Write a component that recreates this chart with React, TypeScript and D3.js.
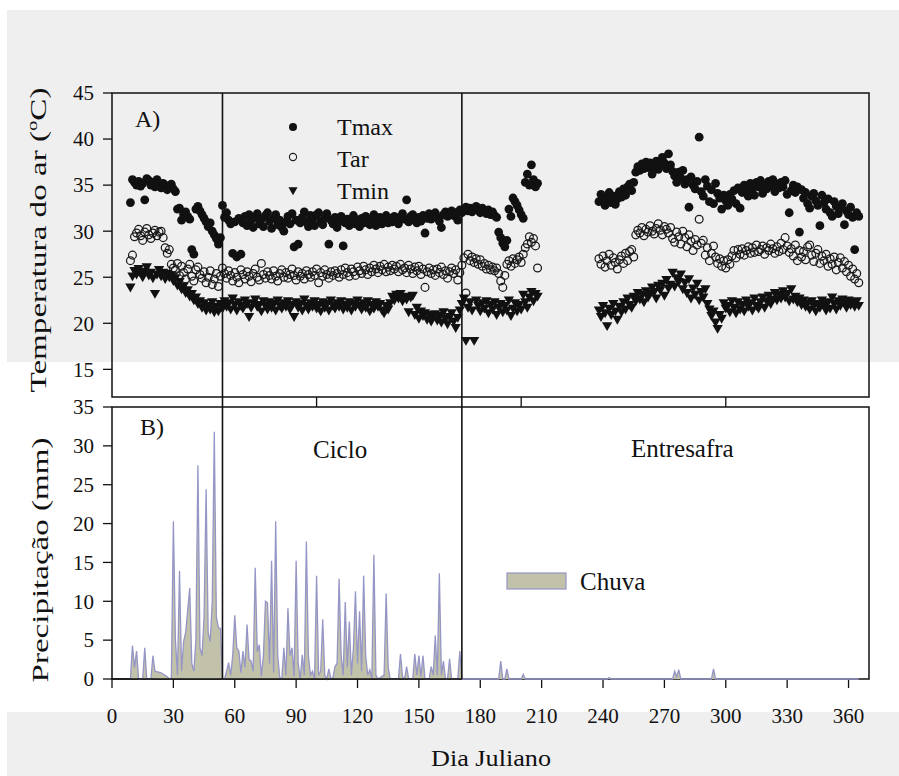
import React from 'react';
import * as d3 from 'd3';

const W = 899;
const H = 776;

// Day of first value of each observed segment
const startA = 9;
const startB = 238;

const tmaxA = [
  33.1, 35.6, 35.3, 35.0, 35.4, 34.9, 35.2, 33.4, 35.7, 35.5,
  35.0, 35.3, 34.8, 35.6, 35.1, 34.7, 35.2, 35.0, 34.5, 34.8,
  35.1, 34.6, 34.3, 32.4, 32.5, 31.2, 31.8, 32.1, 31.6, 31.3,
  28.0, 27.5, 32.4, 32.7, 32.2, 31.8, 31.4, 31.0, 30.5, 30.9,
  30.0, 29.6, 29.2, 28.6, 29.3, 32.8, 31.5, 32.0, 31.2, 30.8,
  27.6, 31.0, 27.2, 31.4, 27.5, 30.9, 31.6, 30.6, 31.8, 31.2,
  30.4, 31.5, 31.9, 30.8, 31.3, 30.5, 31.7, 32.0, 31.1, 30.3,
  31.4, 31.8, 30.7, 31.2, 30.4, 30.0, 31.0, 31.6, 30.8, 31.9,
  28.3, 31.2, 28.6, 30.9, 31.5, 32.1, 31.0, 30.5, 31.7, 31.3,
  30.6, 31.8, 32.0, 31.1, 30.7, 31.4, 31.9, 28.6, 31.2, 30.8,
  31.5, 30.4, 31.0, 31.6, 28.4, 30.9, 31.3, 30.6, 31.1, 31.7,
  30.8, 31.2, 30.5, 31.4, 30.9, 31.6, 31.0, 30.7, 31.3, 31.8,
  30.6, 31.1, 31.5, 30.8, 31.2, 31.7, 30.9, 31.4, 31.0, 31.6,
  31.2, 30.8, 31.5, 31.9, 31.3, 33.4, 31.0, 31.6, 31.8, 31.2,
  30.9, 31.5, 31.1, 31.7, 29.8, 31.4, 31.9, 31.3, 31.6, 32.0,
  31.5, 31.1, 30.4, 31.8, 32.1, 31.6, 31.9, 32.2, 31.7, 32.0,
  31.2, 32.3, 32.0, 32.4, 32.6, 32.2, 32.5, 32.1, 32.4, 32.7,
  32.3, 32.0, 32.5, 32.2, 31.9, 32.3, 31.8, 32.1, 31.7, 31.5,
  29.9, 29.3, 28.7, 28.3, 29.0, 32.4, 31.6, 33.6, 33.2, 32.8,
  32.3, 31.8, 31.4, 35.3, 36.2, 35.0, 37.2, 35.6, 34.8, 35.2,
];

const tmaxB = [
  33.2, 34.0, 33.4, 32.8, 33.6, 34.2, 33.1, 33.8, 32.9, 33.5,
  34.3, 33.7, 34.6, 33.9, 34.8, 35.1, 34.4, 35.3, 36.4, 37.0,
  36.6, 37.3, 36.8, 37.5, 36.9, 37.4, 36.2, 37.0, 37.6, 36.7,
  37.1, 38.0, 37.4, 36.8, 38.4, 37.2, 36.5, 36.0, 35.3, 36.4,
  35.8, 36.6, 35.1, 35.6, 32.6, 35.9, 35.0, 34.6, 35.4, 40.2,
  34.3, 33.8, 35.6, 34.9, 33.2, 34.5, 33.0, 35.2, 34.1, 33.6,
  32.4, 33.9, 33.3, 32.8, 34.0, 33.5, 34.4, 33.0, 34.7, 32.5,
  34.2, 35.0, 34.5, 33.8, 35.2, 34.6, 33.9, 35.3, 34.8, 35.5,
  34.1, 35.0, 34.6, 35.4, 34.9, 35.6, 34.3, 35.1, 34.7, 35.3,
  34.8, 35.5, 34.0, 32.0, 34.4, 35.0, 34.2, 34.8, 29.9, 34.5,
  33.6, 34.2, 33.0, 32.5, 33.8, 34.1, 33.3, 32.8, 30.6, 33.9,
  33.1, 32.4, 33.5, 32.0, 31.6, 33.2, 32.7, 31.9, 32.5, 33.0,
  30.7, 32.2, 31.8, 32.6, 31.5, 28.0, 32.0, 31.6,
];

const tarA = [
  26.8, 27.4, 29.4, 29.8, 30.2, 29.5, 29.0, 29.9, 30.3, 29.6,
  29.2, 29.8, 30.1, 29.5, 29.9, 30.0, 29.3, 28.2, 27.6, 28.0,
  26.4, 26.0, 25.8, 26.5, 25.2, 26.2, 25.5, 24.8, 25.9, 26.4,
  25.1, 24.6, 25.8, 26.1, 25.3, 24.9, 25.6, 24.4, 25.0, 25.7,
  24.2, 24.8, 25.4, 24.0, 25.1, 26.0, 25.4, 24.9, 25.7, 25.2,
  24.6, 25.5, 25.0, 24.4, 25.8, 25.3, 24.8, 25.6, 25.1, 24.5,
  25.4, 25.9, 25.0, 24.7, 26.5, 25.3, 24.9, 25.6, 25.2, 24.8,
  25.7, 25.1, 24.6, 25.4, 25.8, 25.0, 25.5, 24.9, 25.3, 25.9,
  25.2, 24.7, 25.6, 25.1, 25.4, 24.8, 25.7, 25.3, 25.0, 25.6,
  25.2, 25.9, 24.4, 25.5, 25.1, 25.8, 25.3, 24.9, 25.6, 25.2,
  25.7, 25.4, 25.0, 25.8, 25.3, 26.0, 25.5, 25.1, 25.9, 25.6,
  25.2, 26.1, 25.7, 25.4, 26.2, 25.8, 25.3, 26.0, 25.6, 26.3,
  25.9, 25.5, 26.2, 25.8, 26.4, 25.6, 26.1, 25.7, 26.3, 25.9,
  26.2, 25.6, 26.4, 25.8, 26.0, 25.5, 26.3, 25.9, 25.4, 26.1,
  25.7, 26.2, 25.3, 25.9, 23.9, 25.6, 26.0, 25.4, 25.8, 25.2,
  25.9, 25.5, 26.1, 25.3, 25.7, 24.9, 25.6, 26.0, 25.4, 25.8,
  24.7, 25.5, 26.3, 27.1, 23.3, 27.5, 26.8, 27.2, 26.6, 27.0,
  26.4, 26.9, 26.2, 26.5, 25.9, 26.3, 25.8, 26.1, 25.7, 26.0,
  25.4, 24.6, 23.9, 25.2, 26.4, 26.8, 26.2, 27.0, 26.5, 26.9,
  27.2, 26.6, 27.5, 28.2, 28.6, 29.4, 28.8, 29.2, 28.4, 26.0,
];

const tarB = [
  27.0, 26.4, 27.3, 26.1, 26.8, 27.5, 26.3, 27.1, 26.6, 25.9,
  26.9, 27.3, 26.5, 27.6, 26.8, 27.8, 28.0, 27.2, 29.6, 30.1,
  29.8, 30.4, 29.5, 30.2, 29.9, 30.6, 30.0, 29.7, 30.3, 30.8,
  30.1, 29.6, 30.5, 30.2, 29.8, 30.4, 29.2, 28.8, 29.9, 29.4,
  28.6, 30.0, 29.3, 28.3, 29.6, 28.9, 27.9, 29.1, 28.5, 31.3,
  28.7, 29.0, 27.4, 28.2, 26.8, 27.6, 28.4, 27.2, 26.5, 27.0,
  26.2, 26.8, 26.0, 26.9, 26.4, 27.3, 27.9, 27.1, 28.0, 27.5,
  28.1, 27.4, 27.9, 28.3, 27.6, 28.2, 27.7, 28.5, 27.8, 28.0,
  28.4, 27.5, 28.2, 27.9, 28.6, 28.1, 27.6, 28.3, 27.8, 28.7,
  28.0, 29.3, 28.4, 27.7, 28.1, 27.3, 28.5, 26.8, 27.9, 27.2,
  27.8, 26.9, 28.3, 28.5, 27.4, 26.7, 27.6, 28.0, 26.5, 27.3,
  26.8, 27.5, 26.2, 27.0, 26.4, 27.2, 25.8, 26.6, 27.1, 26.0,
  26.7, 25.6, 26.3, 25.1, 25.9, 24.8, 25.4, 24.4,
];

const tminA = [
  24.0, 25.2, 25.8, 25.4, 26.0, 25.5, 25.1, 25.7, 26.2, 25.3,
  25.6, 25.0, 23.3, 25.4, 25.9, 25.2, 25.6, 24.9, 25.5, 25.1,
  25.3, 24.7, 25.0, 24.2, 24.6, 23.8, 24.1, 23.4, 23.7, 23.0,
  23.3, 22.6, 22.9, 22.2, 22.5, 21.8, 22.3, 21.5, 22.0, 21.6,
  22.4, 21.3, 21.9, 21.4, 22.2, 21.7, 22.5, 21.9, 22.3, 21.6,
  22.8, 22.1, 21.5, 22.4, 22.0, 21.7, 22.6, 22.2, 20.8, 21.8,
  22.3, 22.7, 21.9, 22.1, 21.4, 22.5, 22.0, 21.6, 22.4, 21.8,
  22.2, 21.5, 22.6, 22.0, 21.7, 22.3, 21.9, 22.5, 21.6, 22.1,
  20.8, 22.4, 21.8, 22.2, 21.5, 22.7, 22.0, 21.6, 22.3, 21.9,
  22.5, 21.7, 22.1, 21.4, 22.4, 21.8, 22.2, 21.5, 22.6, 22.0,
  21.7, 22.3, 21.9, 22.5, 21.6, 22.1, 21.8, 22.4, 21.5, 22.2,
  21.9, 22.6, 22.0, 21.6, 22.3, 21.8, 22.5, 21.4, 22.1, 21.7,
  22.4, 21.9, 22.2, 21.5, 21.2, 22.0, 21.6, 22.3, 23.0, 22.6,
  23.2, 22.8, 23.3, 22.5, 23.0, 22.7, 21.3, 22.9, 23.1, 21.0,
  21.8, 20.6, 21.4, 20.9, 21.2, 20.5, 21.0, 20.3, 20.8, 21.1,
  20.4, 20.9, 20.2, 21.3, 20.6, 20.0, 20.8, 21.2, 20.3, 19.6,
  20.7, 21.5, 22.2, 22.8, 18.2, 21.8, 22.4, 21.5, 18.2, 22.6,
  22.0, 21.4, 22.3, 21.7, 22.5, 21.2, 22.1, 21.6, 22.4, 21.0,
  21.8, 22.2, 21.3, 22.0, 21.5, 22.6, 20.9, 21.7, 22.3, 21.4,
  22.1, 21.6, 23.2, 22.4, 21.8, 22.9, 23.5, 22.5, 23.3, 23.0,
];

const tminB = [
  21.5, 20.8, 22.0, 21.2, 19.8, 21.7, 21.0, 22.2, 21.4, 20.5,
  21.9, 21.3, 22.4, 21.6, 22.8, 22.1, 21.8, 23.0, 22.5, 23.4,
  22.7, 23.2, 22.4, 23.6, 22.9, 23.3, 24.0, 23.5, 22.8, 24.2,
  23.7, 24.4, 23.1, 24.8, 23.9, 24.3, 25.6, 24.1, 25.0, 24.6,
  25.4, 23.8, 24.5, 23.4, 24.9, 22.8, 23.9, 23.2, 24.4, 22.6,
  23.5, 22.9, 23.8, 22.2, 21.6, 20.9, 21.4, 20.2, 19.5, 21.0,
  20.6, 22.3, 21.7, 22.0, 21.3, 22.5, 21.8, 21.2, 22.4, 21.6,
  22.1, 21.4, 22.6, 21.9, 22.3, 21.5, 22.8, 22.0, 21.7, 22.4,
  22.9, 21.8, 22.5, 23.1, 22.2, 22.7, 23.4, 22.6, 23.2, 22.8,
  23.6, 22.9, 23.3, 22.5, 23.8, 22.7, 23.0, 22.4, 22.8, 22.1,
  22.6, 21.9, 22.3, 21.6, 22.5, 22.0, 21.4, 22.2, 21.8, 22.6,
  22.1, 21.5, 22.4, 21.7, 22.9, 22.2, 21.6, 22.5, 22.0, 22.7,
  22.3, 21.8, 22.6, 22.1, 22.4, 21.9, 22.5, 22.0,
];

const rainDays = [
  9, 10, 11, 12, 13, 15, 16, 17, 19, 20, 21, 24, 27, 28, 29, 30, 31, 32, 33, 34,
  35, 36, 38, 39, 40, 41, 42, 43, 44, 45, 46, 47, 48, 49, 50, 51, 52, 53, 54, 55,
  56, 57, 58, 59, 60, 61, 62, 63, 64, 65, 66, 67, 68, 69, 70, 71, 72, 73, 74, 75,
  76, 77, 78, 79, 80, 81, 82, 83, 84, 85, 86, 87, 88, 89, 90, 91, 92, 93, 94, 95,
  96, 97, 98, 99, 100, 101, 102, 103, 104, 105, 106, 107, 108, 109, 110, 111, 112, 113, 114, 115,
  116, 117, 118, 119, 120, 121, 122, 123, 124, 125, 126, 127, 128, 129, 130, 133, 134, 135, 136, 140,
  141, 142, 143, 144, 145, 147, 148, 149, 150, 151, 152, 153, 155, 156, 157, 158, 159, 160, 161, 162,
  163, 164, 165, 166, 169, 170, 171, 189, 190, 191, 192, 193, 194, 200, 201, 202, 242, 243, 244, 274,
  275, 276, 277, 278, 293, 294, 295, 365,
];
const rainMm = [
  0, 4.3, 1.5, 3.6, 0, 0, 4.0, 0, 0, 3.0, 1.0, 0.8, 0.3, 0, 0, 20.3, 5, 0.5, 13.9, 1,
  4.8, 6, 11.7, 2, 1, 5, 27.5, 4, 3, 8, 24.4, 6, 4.8, 10, 31.8, 8, 6.6, 6.5, 0, 0,
  1.0, 2.1, 0.5, 3, 8.2, 4, 3.6, 0.8, 3.6, 1.5, 7.0, 2.5, 2.3, 1.0, 14.3, 3.5, 4.4, 0.3, 3, 10.0,
  9.8, 2, 15.2, 0.8, 20.3, 3, 0.2, 0, 4.0, 0.5, 9.1, 3, 4.0, 0.3, 15.2, 2, 0, 3.1, 0.5, 17.7,
  3, 0.5, 1.0, 0, 13.3, 0.5, 1, 7.7, 0.5, 0, 1.3, 0, 0.2, 1.6, 2, 12.9, 3, 0.5, 9.9, 1.5,
  7.4, 0.5, 4, 11.3, 2, 8.7, 1, 13.3, 3, 0.5, 1.2, 0, 16.0, 0.5, 0, 0.5, 11.0, 1.5, 0, 0,
  3.2, 0.3, 0, 1.6, 0, 0, 3.2, 0.5, 3.0, 0.3, 3.0, 0, 0, 1.6, 0.5, 5.6, 0.5, 13.6, 0.5, 2.3,
  0, 0, 2.6, 0, 0, 3.6, 0, 0, 2.3, 0, 0, 1.3, 0, 0, 0.6, 0, 0, 0.2, 0, 0,
  1.0, 0.3, 1.2, 0, 0, 1.3, 0, 0,
];

const xTicks = [0, 30, 60, 90, 120, 150, 180, 210, 240, 270, 300, 330, 360];
const tempTicks = [15, 20, 25, 30, 35, 40, 45];
const rainTicks = [0, 5, 10, 15, 20, 25, 30, 35];
const topPanelTicks = [100, 200, 300];
const cycleBounds = [54, 171];

const FONT = '"Liberation Serif", "Times New Roman", serif';
const RAIN_FILL = '#c2c1aa';
const RAIN_LINE = '#9596c6';

function toPoints(start: number, vals: number[]) {
  return vals.map((v, i) => ({ d: start + i, v }));
}

export default function App() {
  const x = d3.scaleLinear().domain([0, 370]).range([112, 869]);
  const yT = d3.scaleLinear().domain([12, 45]).range([397, 93]);
  const yP = d3.scaleLinear().domain([0, 35]).range([679, 407]);

  const tmax = [...toPoints(startA, tmaxA), ...toPoints(startB, tmaxB)];
  const tar = [...toPoints(startA, tarA), ...toPoints(startB, tarB)];
  const tmin = [...toPoints(startA, tminA), ...toPoints(startB, tminB)];

  const rain = rainDays.map((d, i) => ({ d, v: rainMm[i] }));
  const area = d3
    .area<{ d: number; v: number }>()
    .x((p) => x(p.d))
    .y0(yP(0))
    .y1((p) => yP(p.v));
  const line = d3
    .line<{ d: number; v: number }>()
    .x((p) => x(p.d))
    .y((p) => yP(p.v));

  const tri = d3.symbol().type(d3.symbolTriangle).size(46)() as string;
  const legTri = d3.symbol().type(d3.symbolTriangle).size(36)() as string;

  const [tTop, tBot] = yT.range().slice().reverse();
  const x0 = x.range()[0];
  const x1 = x.range()[1];

  return (
    <svg
      width={W}
      height={H}
      viewBox={`0 0 ${W} ${H}`}
      style={{ position: 'absolute', left: 0, top: 0, background: '#fff' }}
      fontFamily={FONT}
    >
      <rect x={7} y={10} width={W - 7} height={352} fill="#efefef" />
      <rect x={7} y={712} width={W - 7} height={H - 712} fill="#efefef" />

      {/* ---------- Panel A ---------- */}
      <g>
        {tempTicks.map((t) => (
          <g key={'ty' + t}>
            <line x1={x0 - 9} x2={x0} y1={yT(t)} y2={yT(t)} stroke="#111" strokeWidth={1.3} />
            <text x={94} y={yT(t)} dy="0.35em" textAnchor="end" fontSize={21} fill="#111">
              {t}
            </text>
          </g>
        ))}
        {topPanelTicks.map((t) => (
          <line key={'tx' + t} x1={x(t)} x2={x(t)} y1={yT(12)} y2={yT(12) + 10} stroke="#111" strokeWidth={1.3} />
        ))}

        {tar.map((p, i) => (
          <circle key={'ar' + i} cx={x(p.d)} cy={yT(p.v)} r={3.9} fill="none" stroke="#1a1a1a" strokeWidth={1.25} />
        ))}
        {tmin.map((p, i) => (
          <path key={'mi' + i} d={tri} transform={`translate(${x(p.d)},${yT(p.v)}) rotate(180)`} fill="#111" />
        ))}
        {tmax.map((p, i) => (
          <circle key={'ma' + i} cx={x(p.d)} cy={yT(p.v)} r={4.4} fill="#111" />
        ))}

        <rect x={x0} y={tTop} width={x1 - x0} height={tBot - tTop} fill="none" stroke="#111" strokeWidth={1.5} />

        <text x={135} y={127} fontSize={24} fill="#111">A)</text>

        <circle cx={293} cy={127} r={4} fill="#111" />
        <circle cx={293} cy={157} r={3.6} fill="none" stroke="#1a1a1a" strokeWidth={1.1} />
        <path d={legTri} transform="translate(293,190) rotate(180)" fill="#111" />
        <text x={337} y={135} fontSize={24} fill="#111">Tmax</text>
        <text x={337} y={167} fontSize={24} fill="#111">Tar</text>
        <text x={337} y={199} fontSize={24} fill="#111">Tmin</text>

        <text
          transform={`translate(46,240) rotate(-90)`}
          textAnchor="middle"
          fontSize={24}
          fill="#111"
          textLength={305}
          lengthAdjust="spacingAndGlyphs"
        >
          Temperatura do ar (<tspan dy={-9} fontSize={15}>o</tspan>
          <tspan dy={9}>C)</tspan>
        </text>
      </g>

      {/* ---------- Panel B ---------- */}
      <g>
        {rainTicks.map((t) => (
          <g key={'ry' + t}>
            <line x1={x0 - 9} x2={x0} y1={yP(t)} y2={yP(t)} stroke="#111" strokeWidth={1.3} />
            <text x={94} y={yP(t)} dy="0.35em" textAnchor="end" fontSize={21} fill="#111">
              {t}
            </text>
          </g>
        ))}
        {xTicks.map((t) => (
          <g key={'rx' + t}>
            <line x1={x(t)} x2={x(t)} y1={yP(0)} y2={yP(0) + 9} stroke="#111" strokeWidth={1.3} />
            <text x={x(t)} y={723} textAnchor="middle" fontSize={21} fill="#111">
              {t}
            </text>
          </g>
        ))}

        <rect x={x0} y={yP(35)} width={x1 - x0} height={yP(0) - yP(35)} fill="none" stroke="#111" strokeWidth={1.5} />

        <path d={area(rain) || ''} fill={RAIN_FILL} stroke="none" />
        <path d={line(rain) || ''} fill="none" stroke={RAIN_LINE} strokeWidth={1.3} />
        <line x1={x0} x2={x(cycleBounds[1])} y1={yP(0)} y2={yP(0)} stroke="#111" strokeWidth={1.5} />

        <text x={140} y={435} fontSize={24} fill="#111">B)</text>
        <text x={313} y={458} fontSize={25} fill="#111">Ciclo</text>
        <text x={631} y={457} fontSize={25} fill="#111">Entresafra</text>

        <rect x={507} y={573} width={59} height={16} fill={RAIN_FILL} stroke={RAIN_LINE} strokeWidth={1.2} />
        <text x={580} y={590} fontSize={25} fill="#111">Chuva</text>

        <text
          transform={`translate(48,560) rotate(-90)`}
          textAnchor="middle"
          fontSize={24}
          fill="#111"
          textLength={245}
          lengthAdjust="spacingAndGlyphs"
        >
          Precipitação (mm)
        </text>
        <text x={491} y={766} textAnchor="middle" fontSize={23} fill="#111" textLength={120} lengthAdjust="spacingAndGlyphs">
          Dia Juliano
        </text>
      </g>

      {/* cycle boundaries */}
      {cycleBounds.map((b) => (
        <line key={'cb' + b} x1={x(b)} x2={x(b)} y1={tTop} y2={yP(0)} stroke="#111" strokeWidth={1.6} />
      ))}
    </svg>
  );
}
